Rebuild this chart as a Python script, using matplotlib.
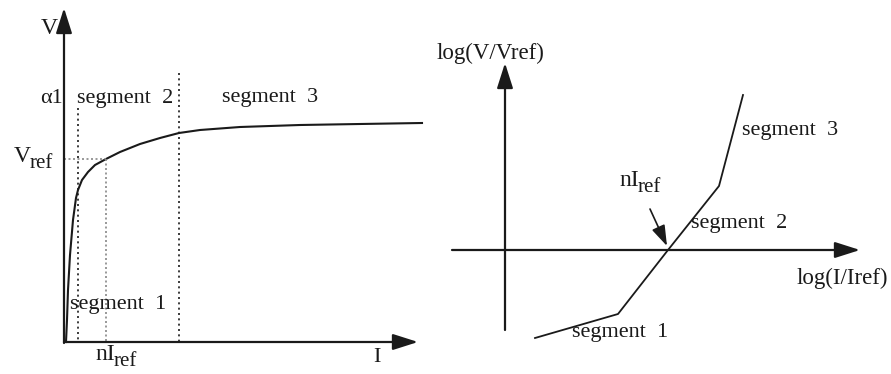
import numpy as np
import matplotlib.pyplot as plt
from matplotlib.textpath import TextPath
from matplotlib.font_manager import FontProperties

plt.rcParams['font.family'] = 'Liberation Serif'

# left panel: V-I curve (drawn in picture pixels, y grows downward)
curve_i = [66, 67, 68, 70, 73, 76, 78, 82, 88, 95, 106, 120, 140, 160, 179, 200, 240, 300, 360, 422]
curve_v = [342, 320, 290, 255, 220, 198, 190, 180, 172, 165, 159, 152, 144, 138, 133, 130, 127, 125, 124, 123]
seg_bounds = [78, 179]
seg_tops = [108, 73]
n_iref = 106
v_ref = 159

# right panel: log-log piecewise line
log_i = [535, 618, 668, 719, 743]
log_v = [338, 314, 250, 186, 95]

ink = '#1a1a1a'
fs = 16
fig = plt.figure(figsize=(8.91, 3.74), dpi=100)
ax = fig.add_axes([0, 0, 1, 1])
ax.set_xlim(0, 891)
ax.set_ylim(374, 0)
ax.axis('off')

def axis_arrow(x0, y0, x1, y1):
    ax.annotate('', xy=(x1, y1), xytext=(x0, y0),
                arrowprops=dict(arrowstyle='-|>,head_length=1.1,head_width=0.35',
                                color=ink, lw=1.6, mutation_scale=14, shrinkA=0, shrinkB=0))

def sub_text(x, y, main, sub):
    t = ax.text(x, y, main, fontsize=fs + 1, va='center', color=ink)
    fig.canvas.draw()
    bb = t.get_window_extent().transformed(ax.transData.inverted())
    ax.text(bb.x1 - 1, y + 7, sub, fontsize=fs - 1, va='center', color=ink)

# left axes
axis_arrow(64, 343, 64, 8)
axis_arrow(64, 342, 418, 342)

ax.plot(curve_i, curve_v, color=ink, lw=1.5)
for x, top in zip(seg_bounds, seg_tops):
    ax.plot([x, x], [top, 342], color=ink, lw=1.2, ls=(0, (1.2, 2)))
ax.plot([n_iref, n_iref], [v_ref, 342], color='#888888', lw=1.2, ls=(0, (1.2, 1.5)))
ax.plot([64, n_iref], [v_ref, v_ref], color='#888888', lw=1.2, ls=(0, (1.2, 1.5)))

ax.text(41, 28, 'V', fontsize=fs + 1, va='center', color=ink)
ax.text(40, 98, '\u03b11', fontsize=fs, va='center', color=ink)
ax.text(77, 98, 'segment  2', fontsize=fs, va='center', color=ink)
ax.text(222, 97, 'segment  3', fontsize=fs, va='center', color=ink)
sub_text(14, 156, 'V', 'ref')
ax.text(70, 305, 'segment  1', fontsize=fs, va='center', color=ink)
sub_text(95, 354, 'nI', 'ref')
ax.text(373, 358, 'I', fontsize=fs, va='center', color=ink)

# right axes
axis_arrow(505, 330, 505, 63)
axis_arrow(452, 250, 860, 250)
ax.plot(log_i, log_v, color=ink, lw=1.3)

ax.text(437, 53, 'log(V/Vref)', fontsize=16.5, va='center', color=ink)
ax.text(742, 130, 'segment  3', fontsize=fs, va='center', color=ink)
sub_text(619, 180, 'nI', 'ref')
ax.text(691, 223, 'segment  2', fontsize=fs, va='center', color=ink)
ax.text(797, 278, 'log(I/Iref)', fontsize=16.5, va='center', color=ink)
ax.text(572, 332, 'segment  1', fontsize=fs, va='center', color=ink)
ax.annotate('', xy=(667, 246), xytext=(650, 209),
            arrowprops=dict(arrowstyle='-|>,head_length=0.9,head_width=0.3',
                            color=ink, lw=1.2, mutation_scale=14, shrinkA=0, shrinkB=0))

fig.savefig('out.png', dpi=100)
